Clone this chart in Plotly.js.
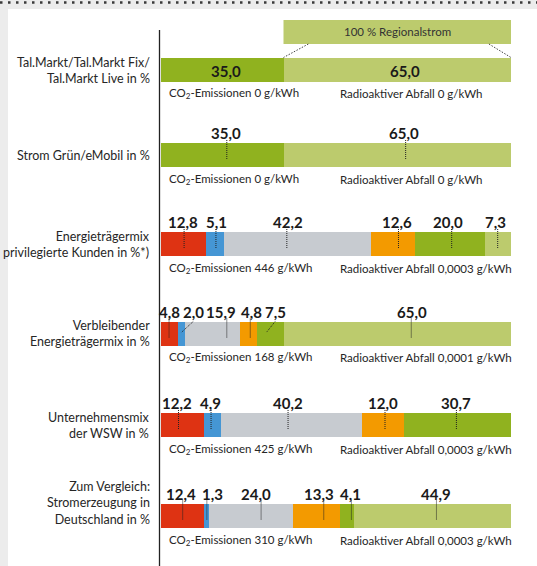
<!DOCTYPE html>
<html>
<head>
<meta charset="utf-8">
<script src="https://cdn.plot.ly/plotly-3.0.1.min.js"></script>
<style>html,body{margin:0;padding:0;background:#fff;}#chart{width:537px;height:566px;}</style>
</head>
<body>
<div id="chart"></div>
<script>
// ---------- data ----------
const categories = [
  "Tal.Markt/Tal.Markt Fix/<br>Tal.Markt Live in %",
  "Strom Grün/eMobil in %",
  "Energieträgermix<br>privilegierte Kunden in %*)",
  "Verbleibender<br>Energieträgermix in %",
  "Unternehmensmix<br>der WSW in %",
  "Zum Vergleich:<br>Stromerzeugung in<br>Deutschland in %"
];
const seriesNames = ["Kernkraft", "Sonstige fossile Energieträger", "Kohle", "Erdgas", "Sonstige erneuerbare Energien", "Erneuerbare Energien (EEG)"];
const kernkraft   = [0, 0, 12.8, 4.8, 12.2, 12.4];
const sonstFossil = [0, 0, 5.1, 2.0, 4.9, 1.3];
const kohle       = [0, 0, 42.2, 15.9, 40.2, 24.0];
const erdgas      = [0, 0, 12.6, 4.8, 12.0, 13.3];
const erneuerbar  = [35.0, 35.0, 20.0, 7.5, 30.7, 4.1];
const eeg         = [65.0, 65.0, 7.3, 65.0, 0, 44.9];
const co2Values   = ["0", "0", "446", "168", "425", "310"];
const radioValues = ["0", "0", "0,0003", "0,0001", "0,0003", "0,0003"];
const regionalText = "100 % Regionalstrom";

// ---------- layout constants ----------
const W = 537, H = 566;
const colors = ["#de3313", "#4596d4", "#c7cbd0", "#f39a00", "#90b21f", "#bccb6d"];
const rowY = [70, 155, 244, 333.5, 425, 515.5];   // row centres (pixel units on y axis)
const barH = 24;
const labelShift = [
  [0, 0, 0, 0, 1.0, 2.1],
  [0, 0, 0, 0, 1.1, 2.0],
  [-0.1, 0.45, -2.85, 0.95, -0.65, -0.65],
  [-0.1, 3.4, 2.45, 0.75, 1.35, 4.1],
  [-1.6, -0.65, -1.0, 0.2, -0.45, 0],
  [-0.45, 1.55, 1.5, 0.65, 1.1, 0.95]
];
const lineShift = [
  null,
  [0, 0, 0, 0, 1.3, 2.4],
  [0.2, 0.35, -3.05, 1.45, 0.35, -0.15],
  [-0.1, 0, 4.05, 0.4, -1.15, 4.0],
  [-1.1, -0.35, -0.9, 0.7, -0.25, 0],
  [0, 0.05, 2.9, 2.15, 1.35, 1.15]
];
const slanted = [[], [], [], [1, 4], [], []];
const textOffset = [23, 24, 24, 24, 24, 25];
const FONT = "Lato, 'Open Sans', sans-serif";
const px = v => v / W;

const series = [kernkraft, sonstFossil, kohle, erdgas, erneuerbar, eeg];

const traces = series.map((vals, i) => ({
  type: "bar",
  orientation: "h",
  name: seriesNames[i],
  x: vals,
  y: rowY,
  width: barH,
  marker: {color: colors[i], line: {width: 0}},
  hoverinfo: "skip"
}));

const annotations = [];
const shapes = [];

// background frame
shapes.push({type: "rect", xref: "paper", yref: "paper", x0: 0, x1: px(8), y0: 0, y1: 1, fillcolor: "#ececec", line: {width: 0}, layer: "below"});
shapes.push({type: "rect", xref: "paper", yref: "y", x0: 0, x1: 1, y0: 0, y1: 9, fillcolor: "#ececec", line: {width: 0}, layer: "below"});
shapes.push({type: "line", xref: "paper", yref: "y", x0: 0, x1: 1, y0: 2.5, y1: 2.5, line: {color: "#3a3a3a", width: 2.5, dash: "2.5px,5.5px"}});

// vertical axis line
shapes.push({type: "line", xref: "paper", yref: "y", x0: px(159.5), x1: px(159.5), y0: 30, y1: H, line: {color: "#222", width: 1.3}});

// regional box
shapes.push({type: "rect", xref: "x", yref: "y", x0: 35, x1: 100, y0: 20, y1: 44, fillcolor: colors[5], line: {width: 0}});
annotations.push({xref: "x", yref: "y", x: 67.5, y: 31.5, text: regionalText, showarrow: false, font: {family: FONT, size: 11.5, color: "#333"}});
shapes.push({type: "line", xref: "x", yref: "y", x0: 42.1, y0: 44, x1: 35, y1: rowY[0] - 12.5, line: {color: "#444", width: 1, dash: "1.5px,1.5px"}});
shapes.push({type: "line", xref: "x", yref: "y", x0: 93.7, y0: 44, x1: 100, y1: rowY[0] - 12.5, line: {color: "#444", width: 1, dash: "1.5px,1.5px"}});

categories.forEach((cat, r) => {
  const c = rowY[r];
  // left label
  annotations.push({
    xref: "paper", yref: "y", x: px(152), y: r === 5 ? c - 13 : c,
    xanchor: "right", yanchor: "middle", align: "right",
    text: cat, showarrow: false,
    font: {family: FONT, size: 12.5, color: "#262626"}
  });
  // value labels
  let cum = 0;
  series.forEach((vals, s) => {
    const v = vals[r];
    const start = cum;
    cum += v;
    if (!v) return;
    const mid = start + v / 2;
    const lx = mid + labelShift[r][s];
    const txt = v.toFixed(1).replace(".", ",");
    if (r === 0) {
      annotations.push({xref: "x", yref: "y", x: lx, y: c + 1, text: "<b>" + txt + "</b>", showarrow: false,
        font: {family: FONT, size: 15, color: "#1a1a1a"}});
      return;
    }
    annotations.push({xref: "x", yref: "y", x: lx, y: c - 22, yanchor: "middle", text: "<b>" + txt + "</b>", showarrow: false,
      font: {family: FONT, size: 15, color: "#1a1a1a"}});
    const bx = mid + lineShift[r][s];
    if (slanted[r].includes(s)) {
      shapes.push({type: "line", xref: "x", yref: "y", x0: lx, y0: c - 12, x1: bx, y1: c - 1,
        line: {color: "#222", width: 1, dash: "1px,1px"}});
    } else {
      shapes.push({type: "line", xref: "x", yref: "y", x0: bx, y0: c - 15, x1: bx, y1: c + 5,
        line: {color: "#222", width: 1, dash: "1px,1px"}});
    }
  });
  // bottom texts
  annotations.push({xref: "x", yref: "y", x: 1.6, y: c + textOffset[r], xanchor: "left", yanchor: "middle",
    text: "CO<sub>2</sub>-Emissionen " + co2Values[r] + " g/kWh", showarrow: false,
    font: {family: FONT, size: 11.5, color: "#262626"}});
  annotations.push({xref: "x", yref: "y", x: 50.7, y: c + textOffset[r], xanchor: "left", yanchor: "middle",
    text: "Radioaktiver Abfall " + radioValues[r] + " g/kWh", showarrow: false,
    font: {family: FONT, size: 11.5, color: "#262626"}});
});

const layout = {
  width: W, height: H,
  margin: {l: 0, r: 0, t: 0, b: 0},
  paper_bgcolor: "#ffffff",
  plot_bgcolor: "rgba(0,0,0,0)",
  barmode: "stack",
  showlegend: false,
  hovermode: false,
  xaxis: {range: [0, 100], domain: [161 / W, 511 / W], visible: false, fixedrange: true},
  yaxis: {range: [H, 0], domain: [0, 1], visible: false, fixedrange: true},
  shapes: shapes,
  annotations: annotations
};

Plotly.newPlot("chart", traces, layout, {displayModeBar: false, staticPlot: true});
</script>
</body>
</html>
